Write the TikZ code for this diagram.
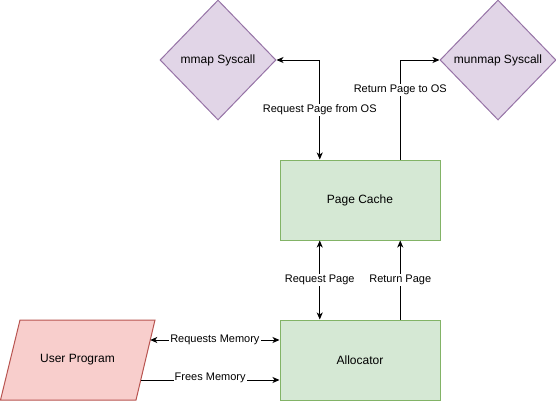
\documentclass[tikz,border=0pt]{standalone}
\usepackage{fontspec}
\setmainfont{Liberation Sans}
\usetikzlibrary{arrows.meta,shapes.geometric,calc}
\definecolor{syscallfill}{HTML}{E1D5E7}
\definecolor{syscalldraw}{HTML}{9673A6}
\definecolor{cachefill}{HTML}{D5E8D4}
\definecolor{cachedraw}{HTML}{82B366}
\definecolor{progfill}{HTML}{F8CECC}
\definecolor{progdraw}{HTML}{B85450}

\begin{document}
\begin{tikzpicture}[
  x=1pt,
  y=-1pt,
  every node/.style={font=\fontsize{12}{14}\selectfont, black},
  syscall/.style={diamond, draw=syscalldraw, fill=syscallfill, line width=1pt,
                  minimum width=116pt, minimum height=120pt, inner sep=0pt},
  block/.style={rectangle, draw=cachedraw, fill=cachefill, line width=1pt,
                minimum width=160pt, minimum height=80pt, inner sep=0pt},
  progshape/.style={draw=progdraw, fill=progfill, line width=1pt},
  link/.style={line width=0.9pt, -{Stealth[length=7pt, width=6pt, inset=2pt]}},
  twoway/.style={line width=0.9pt,
                 {Stealth[length=7pt, width=6pt, inset=2pt]}-{Stealth[length=7pt, width=6pt, inset=2pt]}},
  lbl/.style={fill=white, font=\fontsize{11}{13}\selectfont, inner sep=1pt}
]
  \useasboundingbox (0,0) rectangle (556,401);

  % ---- user program (parallelogram) ----
  \coordinate (userTL) at (20,320);
  \coordinate (userTR) at (155,320);
  \coordinate (userBR) at (136,400);
  \coordinate (userBL) at (0.5,400);
  \draw[progshape] (userTL) -- (userTR) -- (userBR) -- (userBL) -- cycle;
  \node (user) at (77.5,360) {User Program};

  % ---- shapes ----
  \node[syscall] (mmap)   at (218,60)  {mmap Syscall};
  \node[syscall] (munmap) at (498,60)  {munmap Syscall};
  \node[block]   (cache)  at (360,200) {Page Cache};
  \node[block]   (alloc)  at (360,360) {Allocator};

  % ---- attach points ----
  \coordinate (cacheTopL) at ($(cache.north west)!0.25!(cache.north east)$);
  \coordinate (cacheTopR) at ($(cache.north west)!0.75!(cache.north east)$);
  \coordinate (cacheBotL) at ($(cache.south west)!0.25!(cache.south east)$);
  \coordinate (cacheBotR) at ($(cache.south west)!0.75!(cache.south east)$);
  \coordinate (userReq)   at ($(userTR)!0.25!(userBR)$);
  \coordinate (userFree)  at ($(userTR)!0.75!(userBR)$);

  % ---- page cache <-> OS ----
  \draw[twoway] (mmap.east) -| (cacheTopL)
    node[lbl, pos=0.75] {Request Page from OS};
  \draw[link] (cacheTopR) |- (munmap.west)
    node[lbl, pos=0.35] {Return Page to OS};

  % ---- allocator <-> page cache ----
  \draw[twoway] (cacheBotL) -- (cacheBotL |- alloc.north)
    node[lbl, midway] {Request Page};
  \draw[link] (cacheBotR |- alloc.north) -- (cacheBotR)
    node[lbl, midway] {Return Page};

  % ---- user program <-> allocator ----
  \draw[twoway] (userReq) -- (userReq -| alloc.west)
    node[lbl, midway] {Requests Memory};
  \draw[link] (userFree) -- (userFree -| alloc.west)
    node[lbl, midway, yshift=2pt] {Frees Memory};
\end{tikzpicture}
\end{document}
